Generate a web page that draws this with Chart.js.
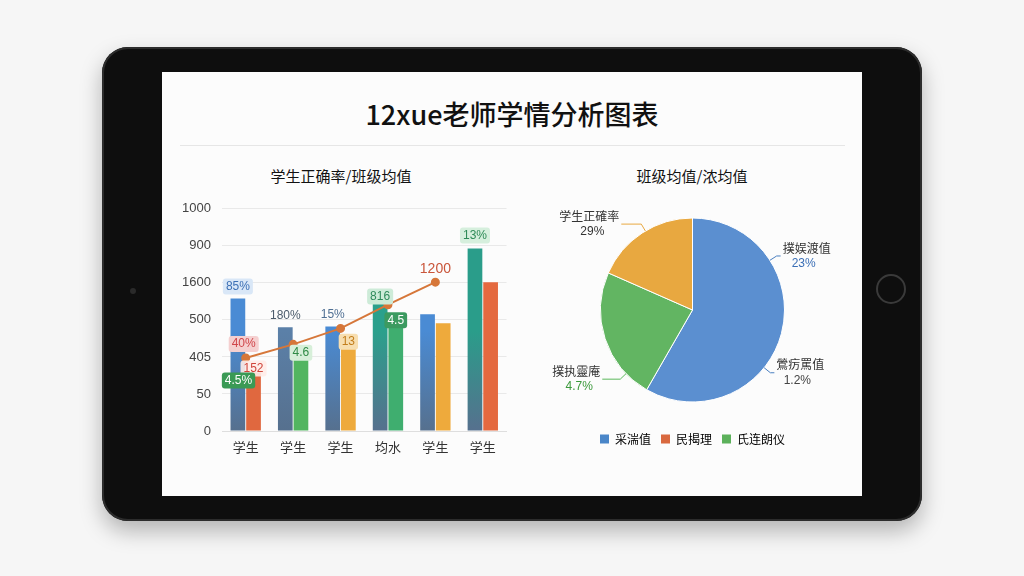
<!DOCTYPE html>
<html>
<head>
<meta charset="utf-8">
<script src="https://cdn.jsdelivr.net/npm/chart.js@4.4.0/dist/chart.umd.min.js"></script>
<style>
body { margin:0; width:1024px; height:576px; overflow:hidden; position:relative;
  background:#f6f6f6; font-family:"Noto Sans CJK SC","Noto Sans",sans-serif; }
.tablet { position:absolute; left:102px; top:47px; width:820px; height:474px; background:#0e0e0e;
  border-radius:26px; box-shadow:0 10px 22px rgba(0,0,0,.28), inset 0 0 0 2px #2c2c2c; }
.cam { position:absolute; left:130px; top:288px; width:6px; height:6px; border-radius:50%; background:#2a2a2a; }
.home { position:absolute; left:876px; top:274px; width:26px; height:26px; border-radius:50%; border:2px solid #3a3a3a; }
.screen { position:absolute; left:162px; top:72px; width:700px; height:424px; background:#fcfcfc; }
.title { position:absolute; left:162px; width:700px; top:94px; text-align:center; font-size:27px; font-weight:500; color:#111; }
.rule { position:absolute; left:180px; width:665px; top:145px; height:1px; background:#e6e6e6; }
.sub { position:absolute; top:165px; font-size:15px; color:#111; text-align:center; width:220px; }
canvas { position:absolute; }
</style>
</head>
<body>
<div class="tablet"></div>
<div class="cam"></div>
<div class="home"></div>
<div class="screen"></div>
<div class="title">12xue老师学情分析图表</div>
<div class="rule"></div>
<div class="sub" style="left:231px">学生正确率/班级均值</div>
<div class="sub" style="left:582px">班级均值/浓均值</div>
<canvas id="barChart" width="342" height="270" style="left:170px;top:190px"></canvas>
<canvas id="pieChart" width="305" height="265" style="left:540px;top:190px"></canvas>
<script>
// bar chart data (in tick steps, labels below are what the axis prints)
const categories = ['学生', '学生', '学生', '均水', '学生', '学生'];
const yTickLabels = ['0', '50', '405', '500', '1600', '900', '1000'];
const seriesA = [3.58, 2.8, 2.82, 3.5, 3.15, 4.93];
const seriesB = [1.58, 2.3, 2.6, 3.1, 2.91, 4.02];
const trendLine = [1.97, 2.34, 2.77, 3.41, 4.02, null];
const labelsA = ['85%', '180%', '15%', '816', '', '13%'];
const labelsB = ['152', '4.6', '13', '4.5', '', ''];
const labelsLine = ['40%', '', '', '', '1200', ''];

// pie chart data
const pieCategories = ['采湍值', '民揭理', '氏连朗仪'];
const pieValues = [58.3, 23.3, 18.4];
const pieNames = ['学生正確率', '撲娱渡值', '鶯疠罵值', '撲执靈庵'];
const piePcts = ['29%', '23%', '1.2%', '4.7%'];

const topA = ['#4a8bd4', '#5b80a8', '#4a8bd4', '#2ba08c', '#4a8bd4', '#2a9d8a'];
const colB = ['#e0683f', '#52b560', '#eeaa3c', '#3fae6f', '#eeaa3c', '#e4693f'];

function fadeBar(context, top) {
	const chart = context.chart;
	const area = chart.chartArea;
	if (!area) return top;
	const g = chart.ctx.createLinearGradient(0, area.top + 40, 0, area.bottom);
	g.addColorStop(0, top);
	g.addColorStop(0.45, top);
	g.addColorStop(1, '#56708e');
	return g;
}

function pill(c, text, x, y, bg, fg, size) {
	c.font = (size || 12) + 'px "Liberation Sans", "Noto Sans CJK SC", sans-serif';
	c.textAlign = 'center';
	c.textBaseline = 'middle';
	if (bg) {
		const w = c.measureText(text).width + 6;
		c.fillStyle = bg;
		c.beginPath();
		c.roundRect(x - w / 2, y - 8, w, 16, 3);
		c.fill();
	}
	c.fillStyle = fg;
	c.fillText(text, x, y);
}

const barLabelPlugin = {
	id: 'barLabels',
	afterDatasetsDraw(chart, args, opts) {
		const c = chart.ctx;
		c.save();
		opts.items.forEach(it => {
			const el = chart.getDatasetMeta(it.ds).data[it.i];
			if (!el || !it.text) return;
			pill(c, it.text, el.x + (it.dx || 0), el.y + it.dy, it.bg, it.fg, it.size);
		});
		c.restore();
	}
};

const items = [
	{ ds: 0, i: 0, text: labelsA[0], dy: -12, bg: '#d9e7f7', fg: '#3d70b5' },
	{ ds: 0, i: 1, text: labelsA[1], dy: -12, fg: '#4b5b6b' },
	{ ds: 0, i: 2, text: labelsA[2], dy: -12, fg: '#4f6f93' },
	{ ds: 0, i: 3, text: labelsA[3], dy: -5, bg: '#cdebd8', fg: '#2f8a5a' },
	{ ds: 0, i: 5, text: labelsA[5], dy: -13, bg: '#d6efdd', fg: '#2e8b57' },
	{ ds: 2, i: 0, text: labelsLine[0], dy: -14, dx: -2, bg: '#f5d0d0', fg: '#d0454a' },
	{ ds: 2, i: 4, text: labelsLine[4], dy: -13, fg: '#c9553a', size: 14 },
	{ ds: 1, i: 0, text: labelsB[0], dy: -4, bg: 'rgba(255,236,232,0.9)', fg: '#d0453a' },
	{ ds: 1, i: 0, text: '4.5%', dy: 8, dx: -15, bg: '#3a9a55', fg: '#ffffff' },
	{ ds: 1, i: 1, text: labelsB[1], dy: 7, bg: '#d7efd9', fg: '#2f8a45' },
	{ ds: 1, i: 2, text: labelsB[2], dy: 7, bg: '#f7deb0', fg: '#c27d1c' },
	{ ds: 1, i: 3, text: labelsB[3], dy: 4, bg: '#3c9a60', fg: '#ffffff' }
];

new Chart(document.getElementById('barChart'), {
	type: 'bar',
	data: {
		labels: categories,
		datasets: [
			{
				data: seriesA,
				backgroundColor: ctx => fadeBar(ctx, topA[ctx.dataIndex]),
				barPercentage: 0.94,
				categoryPercentage: 0.66,
				order: 1
			},
			{
				data: seriesB,
				backgroundColor: ctx => colB[ctx.dataIndex],
				barPercentage: 0.94,
				categoryPercentage: 0.66,
				order: 1
			},
			{
				type: 'line',
				data: trendLine,
				borderColor: '#d6773a',
				backgroundColor: '#d6773a',
				borderWidth: 2,
				pointRadius: 3.5,
				pointHoverRadius: 3.5,
				tension: 0,
				order: 0
			}
		]
	},
	options: {
		responsive: false,
		animation: false,
		layout: { padding: { top: 16, right: 2, left: 0, bottom: 0 } },
		plugins: {
			legend: { display: false },
			tooltip: { enabled: false },
			barLabels: { items: items }
		},
		scales: {
			x: {
				grid: { display: false },
				border: { color: '#dedede' },
				ticks: { color: '#333', padding: 0, font: { size: 13, family: '"Noto Sans CJK SC"' } },
				afterFit: s => { s.height = 29; }
			},
			y: {
				min: 0,
				max: 6,
				border: { display: false },
				grid: { color: '#e9e9e9', drawTicks: false },
				ticks: {
					stepSize: 1,
					padding: 11,
					color: '#444',
					font: { size: 13, family: '"Liberation Sans"' },
					callback: v => yTickLabels[v]
				},
				afterFit: s => { s.width = 52; }
			}
		}
	},
	plugins: [barLabelPlugin]
});

const pieColors = ['#5b8fd0', '#62b562', '#e8a840'];
const legendColors = ['#4a86c8', '#d9693f', '#5cb15b'];

const pieLabelPlugin = {
	id: 'pieLabels',
	afterDatasetsDraw(chart, args, opts) {
		const c = chart.ctx;
		const arcs = chart.getDatasetMeta(0).data;
		c.save();
		opts.items.forEach((it, k) => {
			const a = arcs[it.seg];
			const ang = a.startAngle + it.f * (a.endAngle - a.startAngle);
			const r = a.outerRadius;
			const x0 = a.x + r * Math.cos(ang), y0 = a.y + r * Math.sin(ang);
			const x1 = a.x + (r + 8) * Math.cos(ang), y1 = a.y + (r + 8) * Math.sin(ang);
			const side = Math.cos(ang) >= 0 ? 1 : -1;
			const x2 = x1 + side * it.h;
			c.strokeStyle = it.line;
			c.lineWidth = 1;
			c.beginPath();
			c.moveTo(x0, y0);
			c.lineTo(x1, y1);
			c.lineTo(x2, y1);
			c.stroke();
			c.font = '12px "Noto Sans CJK SC", sans-serif';
			const w = c.measureText(pieNames[k]).width;
			const cx = x2 + side * (w / 2 + 2);
			c.textAlign = 'center';
			c.textBaseline = 'middle';
			c.fillStyle = '#333';
			c.fillText(pieNames[k], cx, y1 - 8);
			c.font = '12px "Liberation Sans", sans-serif';
			c.fillStyle = it.pctColor;
			c.fillText(piePcts[k], cx - side * 3, y1 + 8);
		});
		c.restore();
	}
};

new Chart(document.getElementById('pieChart'), {
	type: 'pie',
	data: {
		labels: pieCategories,
		datasets: [{
			data: pieValues,
			backgroundColor: pieColors,
			borderColor: '#ffffff',
			borderWidth: 1,
			radius: 92
		}]
	},
	options: {
		responsive: false,
		animation: false,
		layout: { padding: { top: 7, left: 5, right: 5, bottom: 0 } },
		plugins: {
			tooltip: { enabled: false },
			legend: {
				position: 'bottom',
				labels: {
					boxWidth: 9,
					boxHeight: 9,
					padding: 10,
					color: '#444',
					font: { size: 12, family: '"Noto Sans CJK SC"' },
					generateLabels: chart => pieCategories.map((t, i) => ({
						text: t,
						fillStyle: legendColors[i],
						strokeStyle: legendColors[i],
						lineWidth: 0,
						index: i
					}))
				}
			},
			pieLabels: {
				items: [
					{ seg: 2, f: 0.535, h: 20, pctColor: '#333', line: '#e8a840' },
					{ seg: 0, f: 0.273, h: 4, pctColor: '#3b6fb6', line: '#4a7fc0' },
					{ seg: 0, f: 0.614, h: 4, pctColor: '#444', line: '#4a7fc0' },
					{ seg: 1, f: 0.195, h: 18, pctColor: '#3c9a3c', line: '#5cb85c' }
				]
			}
		}
	},
	plugins: [pieLabelPlugin]
});
</script>
</body>
</html>
